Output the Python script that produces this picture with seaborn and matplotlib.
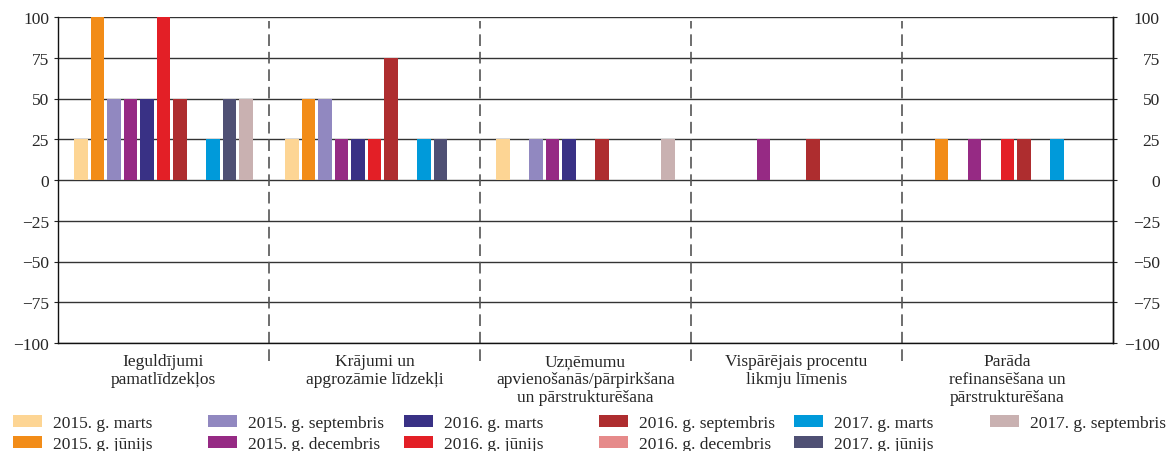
import matplotlib
matplotlib.use("Agg")
import matplotlib.pyplot as plt
import seaborn as sns
import pandas as pd

categories = [
    "Ieguldījumi\npamatlīdzekļos",
    "Krājumi un\napgrozāmie līdzekļi",
    "Uzņēmumu\napvienošanās/pārpirkšana\nun pārstrukturēšana",
    "Vispārējais procentu\nlikmju līmenis",
    "Parāda\nrefinansēšana un\npārstrukturēšana",
]

series = [
    "2015. g. marts", "2015. g. jūnijs", "2015. g. septembris", "2015. g. decembris",
    "2016. g. marts", "2016. g. jūnijs", "2016. g. septembris", "2016. g. decembris",
    "2017. g. marts", "2017. g. jūnijs", "2017. g. septembris",
]

colors = [
    "#FDD594", "#F28C18", "#9188C0", "#962A84",
    "#393185", "#E31F26", "#AE2D2F", "#E68A8A",
    "#009ADA", "#4F5074", "#C9B1B1",
]

# values per category, in series order
vals_ieguldijumi = [25, 100, 50, 50, 50, 100, 50, 0, 25, 50, 50]
vals_krajumi = [25, 50, 50, 25, 25, 25, 75, 0, 25, 25, 0]
vals_uznemumu = [25, 0, 25, 25, 25, 0, 25, 0, 0, 0, 25]
vals_procentu = [0, 0, 0, 25, 0, 0, 25, 0, 0, 0, 0]
vals_parada = [0, 25, 0, 25, 0, 25, 25, 0, 25, 0, 0]

yticks = [-100, -75, -50, -25, 0, 25, 50, 75, 100]

all_vals = [vals_ieguldijumi, vals_krajumi, vals_uznemumu, vals_procentu, vals_parada]
rows = []
for cat, vals in zip(categories, all_vals):
    for s, v in zip(series, vals):
        rows.append({"cat": cat, "series": s, "val": v})
df = pd.DataFrame(rows)

sns.set_style("ticks")
plt.rcParams["font.family"] = ["Liberation Serif", "DejaVu Serif"]
plt.rcParams["font.size"] = 12.5
plt.rcParams["axes.unicode_minus"] = True

W, H = 1168, 452
fig = plt.figure(figsize=(W / 100, H / 100), dpi=100)
ax = fig.add_axes([58 / W, 1 - 344 / H, (1113 - 58) / W, (344 - 18) / H])

sns.barplot(data=df, x="cat", y="val", hue="series", order=categories,
            hue_order=series, palette=colors, width=0.86, gap=0.2,
            saturation=1, linewidth=0, ax=ax, legend=True)
handles, labels = ax.get_legend_handles_labels()
if ax.get_legend() is not None:
    ax.get_legend().remove()

ax.set_xlim(-0.5, len(categories) - 0.5)
ax.set_ylim(-100, 100)
ax.set_xlabel("")
ax.set_ylabel("")
ax.set_axisbelow(True)
ax.yaxis.grid(True, color="#333333", lw=1.0)
ax.xaxis.grid(False)

tick_labels = [str(v).replace("-", "\u2212") for v in yticks]
ax.set_yticks(yticks)
ax.set_yticklabels(tick_labels)
ax.tick_params(axis="y", length=2.9, width=0.8, pad=3.6, labelsize=12.5, color="#222")
ax.tick_params(axis="x", length=0, pad=7.5, labelsize=12.5)
for t in ax.get_xticklabels():
    t.set_linespacing(1.15)

for side in ["top"]:
    ax.spines[side].set_visible(False)
for side in ["left", "right", "bottom"]:
    ax.spines[side].set_visible(True)
    ax.spines[side].set_color("#111")
    ax.spines[side].set_linewidth(1.0)

ax2 = ax.twinx()
ax2.set_ylim(-100, 100)
ax2.set_yticks(yticks)
ax2.set_yticklabels(tick_labels, ha="right")
ax2.tick_params(axis="y", length=2.9, width=0.8, pad=30.9, labelsize=12.5, color="#222")
for side in ["top", "left", "bottom"]:
    ax2.spines[side].set_visible(False)
ax2.spines["right"].set_color("#111")
ax2.spines["right"].set_linewidth(1.0)

for xs in [0.5, 1.5, 2.5, 3.5]:
    ax.axvline(xs, ymin=-0.055, ymax=0.988, clip_on=False, color="#555555",
               lw=1.2, dashes=(7, 3.5))

col_x = [13, 208, 404, 599, 794, 990]
for c, x in enumerate(col_x):
    hs = handles[2 * c:2 * c + 2]
    ls = labels[2 * c:2 * c + 2]
    fig.legend(hs, ls, loc="upper left", bbox_to_anchor=(x / W, 1 - 416 / H),
               frameon=False, borderpad=0, borderaxespad=0, handlelength=1.65,
               handleheight=0.62, handletextpad=0.65, labelspacing=0.3,
               fontsize=12.5)

fig.savefig("out.png", dpi=100)
